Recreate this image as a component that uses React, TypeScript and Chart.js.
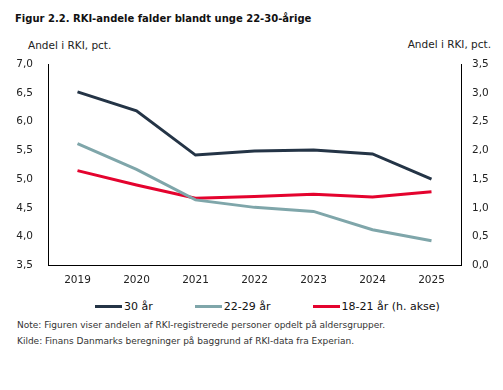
import React, { useEffect, useRef } from "react";
import { Chart, registerables } from "chart.js";

Chart.register(...registerables);

const years = ["2019", "2020", "2021", "2022", "2023", "2024", "2025"];
const age30 = [6.52, 6.19, 5.42, 5.49, 5.51, 5.44, 5.0];
const age22to29 = [5.62, 5.17, 4.64, 4.51, 4.44, 4.12, 3.93];
const age18to21 = [1.65, 1.4, 1.17, 1.2, 1.24, 1.19, 1.28];
const seriesNames = ["30 år", "22-29 år", "18-21 år (h. akse)"];
const colors = ["#243446", "#7fa6aa", "#e4032e"];

const FONT = "'DejaVu Sans', sans-serif";

const fmt = (v: number | string) => Number(v).toFixed(1).replace(".", ",");

export default function App() {
  const ref = useRef<HTMLCanvasElement | null>(null);

  useEffect(() => {
    if (!ref.current) return;
    const chart = new Chart(ref.current, {
      type: "line",
      data: {
        labels: years,
        datasets: [
          { label: seriesNames[0], data: age30, borderColor: colors[0], backgroundColor: colors[0], yAxisID: "y" },
          { label: seriesNames[1], data: age22to29, borderColor: colors[1], backgroundColor: colors[1], yAxisID: "y" },
          { label: seriesNames[2], data: age18to21, borderColor: colors[2], backgroundColor: colors[2], yAxisID: "y1" },
        ],
      },
      options: {
        animation: false,
        responsive: false,
        maintainAspectRatio: false,
        elements: {
          line: { borderWidth: 3, tension: 0, borderCapStyle: "butt" },
          point: { radius: 0, hoverRadius: 0 },
        },
        layout: { padding: { top: 13, left: 0, right: 0, bottom: 0 } },
        plugins: {
          title: { display: false },
          tooltip: { enabled: false },
          legend: { display: false },
        },
        scales: {
          x: {
            offset: true,
            grid: { display: false, drawTicks: false },
            border: { display: true, color: "#000", width: 1 },
            ticks: { color: "#222", font: { family: FONT, size: 10.5 }, padding: 9 },
          },
          y: {
            position: "left",
            min: 3.5,
            max: 7.0,
            grid: { display: false, drawTicks: false },
            border: { display: true, color: "#000", width: 1 },
            ticks: { stepSize: 0.5, color: "#222", font: { family: FONT, size: 10.5 }, padding: 15, callback: (v: any) => fmt(v) },
            afterFit: (s: any) => { s.width = 48; },
          },
          y1: {
            position: "right",
            min: 0,
            max: 3.5,
            grid: { display: false, drawTicks: false },
            border: { display: true, color: "#000", width: 1 },
            ticks: { stepSize: 0.5, color: "#222", font: { family: FONT, size: 10.5 }, padding: 11, callback: (v: any) => fmt(v) },
            afterFit: (s: any) => { s.width = 42; },
          },
        },
      },
    });
    return () => chart.destroy();
  }, []);

  return (
    <div style={{ position: "fixed", left: 0, top: 0, width: 503, height: 390, background: "#fff", fontFamily: FONT, color: "#111" }}>
      <div style={{ position: "absolute", left: 15, top: 13, fontSize: 10, fontWeight: "bold", whiteSpace: "nowrap" }}>
        Figur 2.2. RKI-andele falder blandt unge 22-30-årige
      </div>
      <div style={{ position: "absolute", left: 28, top: 39, fontSize: 10.5, whiteSpace: "nowrap", color: "#222" }}>
        Andel i RKI, pct.
      </div>
      <div style={{ position: "absolute", right: 12, top: 38, fontSize: 10.5, whiteSpace: "nowrap", color: "#222" }}>
        Andel i RKI, pct.
      </div>
      <canvas ref={ref} width={503} height={253} style={{ position: "absolute", left: 0, top: 43, width: 503, height: 253 }} />
      <div style={{ position: "absolute", left: 95, top: 298, display: "flex", gap: 42, fontSize: 11, color: "#111", whiteSpace: "nowrap" }}>
        {seriesNames.map((n, i) => (
          <div key={n} style={{ display: "flex", alignItems: "center", height: 16 }}>
            <span style={{ display: "inline-block", width: 27, height: 3, background: colors[i], marginRight: 2 }} />
            <span>{n}</span>
          </div>
        ))}
      </div>
      <div style={{ position: "absolute", left: 17, top: 317, fontSize: 9, lineHeight: "16px", whiteSpace: "nowrap", color: "#333" }}>
        <div>Note: Figuren viser andelen af RKI-registrerede personer opdelt på aldersgrupper.</div>
        <div>Kilde: Finans Danmarks beregninger på baggrund af RKI-data fra Experian.</div>
      </div>
    </div>
  );
}
